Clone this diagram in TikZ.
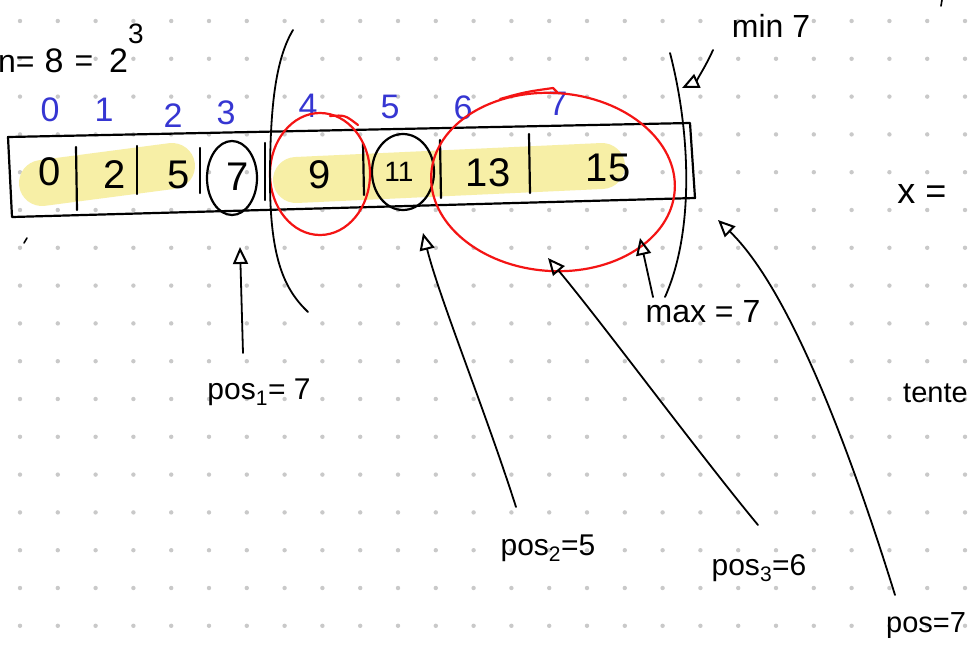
\documentclass[tikz,border=0pt]{standalone}
\usepackage{fontspec}
\setmainfont{Liberation Sans}
\usetikzlibrary{arrows.meta}
\definecolor{hl}{HTML}{F7EFA6}
\definecolor{idx}{HTML}{3636D2}
\definecolor{redpen}{HTML}{F41414}
\definecolor{dotc}{HTML}{C9C9C9}
\begin{document}
\begin{tikzpicture}[x=1pt,y=-1pt,line cap=round,line join=round,
  ink/.style={line width=2.2pt,black},
  redink/.style={line width=2.2pt,redpen},
  band/.style={line width=46pt,hl},
  idxlab/.style={text=idx,font=\fontsize{34}{34}\selectfont,inner sep=0pt},
  val/.style={font=\fontsize{40}{40}\selectfont,inner sep=0pt},
  note/.style={font=\fontsize{32}{32}\selectfont,inner sep=0pt},
  ptr/.style={line width=1.8pt,black,-{Triangle[open,length=17pt,width=15pt,line width=2pt]}},
]
\useasboundingbox (0,0) rectangle (969,646);
\fill[white] (0,0) rectangle (969,646);
% dot grid
\foreach \i in {0,...,25} \foreach \j in {0,...,16}
  \fill[dotc] ({20+37.8*\i},{21+37.8*\j}) circle (2.2pt);

% highlight bands
\draw[band] (42,183) -- (172,166);
\draw[band] (296,180) -- (602,166);

% array box
\draw[ink] (8,137) -- (690,123) -- (695,198) -- (12,217) -- cycle;
\draw[ink] (76,147) -- (77,210);
\draw[ink] (137,146) -- (137,194);
\draw[ink] (200,148) -- (200,193);
\draw[ink] (265,143) -- (265,200);
\draw[ink] (363,143) -- (364,195);
\draw[ink] (440,140) -- (441,198);
\draw[ink] (529,134) -- (530,193);

% values
\node[val] (v0) at (50,172) {0};
\node[val] (v1) at (115,175) {2};
\node[val] (v2) at (179,175) {5};
\node[val] (v3) at (238,177) {7};
\node[val] (v4) at (320,175) {9};
\node[val,font=\fontsize{28}{28}\selectfont] (v5) at (399,172) {11};
\node[val] (v6) at (488,173) {13};
\node[val] (v7) at (608,168) {15};

% indices
\node[idxlab] (i0) at (50,110) {0};
\node[idxlab] (i1) at (104,110) {1};
\node[idxlab] (i2) at (173,116) {2};
\node[idxlab] (i3) at (226,113) {3};
\node[idxlab] (i4) at (308,106) {4};
\node[idxlab] (i5) at (390,107) {5};
\node[idxlab] (i6) at (463,108) {6};
\node[idxlab] (i7) at (558,104) {7};

% circles
\draw[ink] (232,178) ellipse[x radius=25pt,y radius=37pt];
\draw[ink] (403,172) ellipse[x radius=31pt,y radius=38pt];
\draw[redink] (320,174) ellipse[x radius=50pt,y radius=61pt];
\draw[redink] (330,116) .. controls (345,115) .. (358,125);
\draw[redink,rotate around={-4:(553,182)}] (553,182) ellipse[x radius=122pt,y radius=89pt];
\draw[redink] (500,99) .. controls (525,92) .. (553,88) -- (557,92);

% dividing curves
\draw[ink,line width=1.8pt] (293,30) .. controls (275,60) and (270,110) .. (270,180)
  .. controls (270,260) and (285,290) .. (308,312);
\draw[ink,line width=1.8pt] (670,53) .. controls (690,130) and (695,230) .. (665,297);

% title
\node[note,anchor=base west] (ttl) at (-2,72) {n=};
\node[note,font=\fontsize{34}{34}\selectfont] (eight) at (54,61) {8};
\node[note] (eq) at (84,64) {=};
\node[note,font=\fontsize{34}{34}\selectfont,anchor=base west] (two) at (109,72) {2};
\node[note,font=\fontsize{28}{28}\selectfont,anchor=base west] (three) at (128,43) {3};

% notes
\node[note] (mn) at (771,26) {min 7};
\node[note] (mx) at (703,312) {max = 7};
\node[note,font=\fontsize{36}{36}\selectfont] (xe) at (922,194) {x =};
\node[note,font=\fontsize{29}{29}\selectfont,anchor=base west] (tt) at (903,402) {tente};

% pos labels
\node[note,font=\fontsize{30}{30}\selectfont] (p1) at (259,392) {pos\textsubscript{1}= 7};
\node[note,font=\fontsize{30}{30}\selectfont] (p2) at (548,548) {pos\textsubscript{2}=5};
\node[note,font=\fontsize{30}{30}\selectfont] (p3) at (759,568) {pos\textsubscript{3}=6};
\node[note,font=\fontsize{29}{29}\selectfont,anchor=west] (p4) at (886,626) {pos=7};

% arrow end points
\coordinate (s1) at (243,353); \coordinate (t1) at (240,247);
\coordinate (s2) at (516,507); \coordinate (t2) at (423,233);
\coordinate (s3) at (758,525); \coordinate (t3) at (548,258);
\coordinate (s4) at (895,595); \coordinate (t4) at (718,220);
\coordinate (sm) at (653,297); \coordinate (tm) at (640,238);
\coordinate (sn) at (713,50);  \coordinate (tn) at (682,88);

\draw[ptr] (s1) -- (t1);
\draw[ptr] (s2) .. controls (485,410) and (440,300) .. (t2);
\draw[ptr] (s3) .. controls (700,455) and (600,320) .. (t3);
\draw[ptr] (s4) .. controls (850,450) and (790,290) .. (t4);
\draw[ptr] (sm) -- (tm);
\draw[ptr] (sn) .. controls (705,68) and (695,82) .. (tn);

% small stray marks
\draw[ink,line width=1.6pt] (24,243) -- (27,238);
\draw[ink,line width=1.6pt] (942,0) -- (941,6);
\end{tikzpicture}
\end{document}
